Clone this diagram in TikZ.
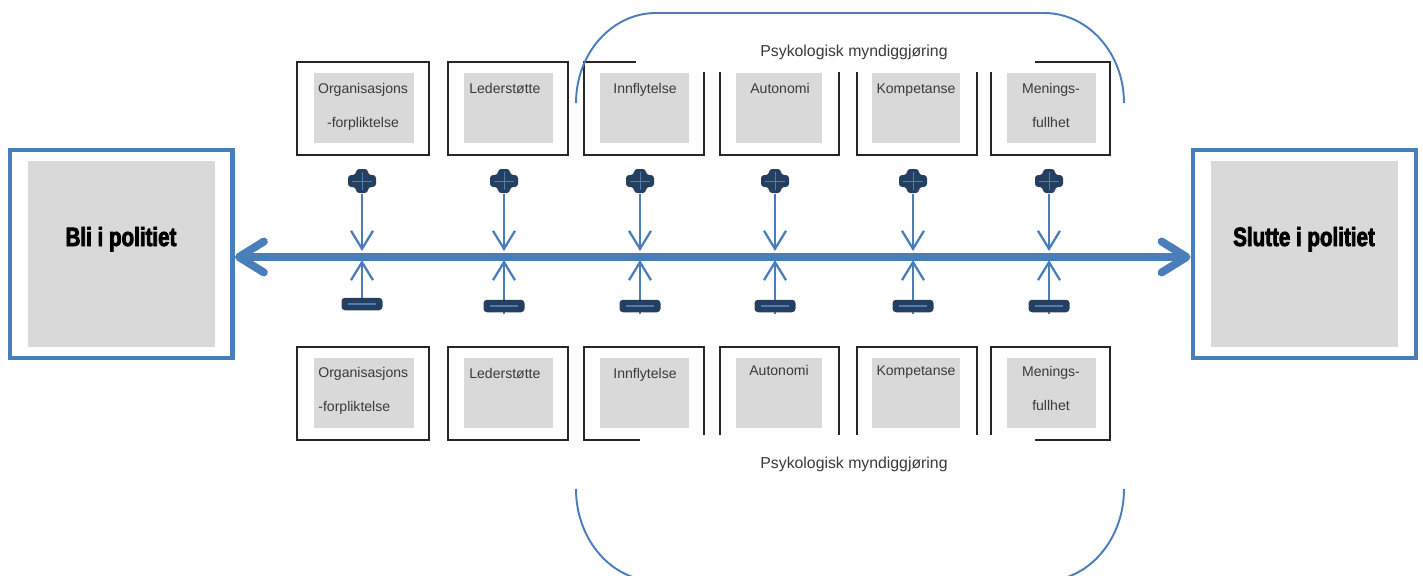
\documentclass[tikz,border=0pt]{standalone}
\usepackage{fontspec}
\setmainfont{Liberation Sans}
\newfontfamily\headfont{Liberation Sans}[FakeStretch=0.78,BoldFeatures={FakeStretch=0.78,FakeBold=3}]
\usetikzlibrary{arrows.meta,fit}
\definecolor{axisblue}{HTML}{4A7EBB}
\definecolor{symnavy}{HTML}{243F60}
\definecolor{panelgray}{HTML}{D9D9D9}
\definecolor{labelgray}{HTML}{3A3A3A}
\begin{document}
\begin{tikzpicture}[x=0.02cm,y=-0.02cm,
  frame/.style={draw=black!85, line width=0.85pt, inner sep=0pt},
  panel/.style={fill=panelgray, inner sep=0pt},
  cover/.style={fill=white, inner sep=0pt},
  endframe/.style={draw=axisblue, line width=2.8pt, inner sep=0pt},
  boxtext/.style={anchor=base, inner sep=0pt, text=labelgray, font=\fontsize{8pt}{9pt}\selectfont},
  boxtextL/.style={boxtext, anchor=base west},
  grouptext/.style={anchor=base, inner sep=0pt, text=labelgray, font=\fontsize{9pt}{10pt}\selectfont},
  headtext/.style={anchor=base, inner sep=0pt, text=black, font=\headfont\bfseries\fontsize{15pt}{18pt}\selectfont},
  bracket/.style={draw=axisblue, line width=1.1pt},
  mainaxis/.style={draw=axisblue, line width=4.5pt,
    {Straight Barb[round,length=0.5cm,width=0.62cm]}-{Straight Barb[round,length=0.5cm,width=0.62cm]}},
  link/.style={draw=axisblue, line width=1.3pt, -{Straight Barb[length=0.36cm,width=0.44cm]}},
  plussign/.style={rectangle, inner sep=0pt, minimum width=0.58cm, minimum height=0.5cm,
    path picture={\begin{scope}[shift={(path picture bounding box.center)}]
      \fill[symnavy, rounded corners=1.8pt] (-14,-6) -- (-6,-6) -- (-6,-12) -- (6,-12) -- (6,-6)
        -- (14,-6) -- (14,6) -- (6,6) -- (6,12) -- (-6,12) -- (-6,6) -- (-14,6) -- cycle;
      \draw[axisblue, line width=0.5pt] (-10,0) -- (10,0) (0,-9) -- (0,9);
    \end{scope}}},
  minussign/.style={rectangle, inner sep=0pt, fill=symnavy, rounded corners=2pt,
    minimum width=0.82cm, minimum height=0.25cm,
    path picture={\begin{scope}[shift={(path picture bounding box.center)}]
      \draw[axisblue, line width=0.6pt] (-14,0) -- (14,0);
    \end{scope}}}
]
\useasboundingbox (0,0) rectangle (1423,575);
\clip (0,0) rectangle (1423,575);

% factor boxes, upper and lower rows
\foreach \i/\xl/\xr/\gl/\gr in {1/297/429/314/414, 2/448/568/464/553, 3/584/704/600/689,
                                4/720/839/736/822, 5/857/977/872/960, 6/991/1110/1007/1096}{
  \node[frame, fit={(\xl,62) (\xr,155)}] (top\i) {};
  \node[panel, fit={(\gl,73) (\gr,143)}] (topin\i) {};
  \node[frame, fit={(\xl,347) (\xr,440)}] (bot\i) {};
  \node[panel, fit={(\gl,358) (\gr,428)}] (botin\i) {};
}

% white bands carrying the group captions
\node[cover, fit={(636,34) (1035,72)}] (captop) {};
\node[cover, fit={(640,435) (1035,476)}] (capbot) {};
\node[grouptext] (grouptop) at (854,56) {Psykologisk myndiggjøring};
\node[grouptext] (groupbot) at (854,468) {Psykologisk myndiggjøring};

% upper labels
\node[boxtext] (tl1a) at (363,93) {Organisasjons};
\node[boxtext] (tl1b) at (363,127) {-forpliktelse};
\node[boxtextL] (tl2) at (469,93) {Lederstøtte};
\node[boxtext] (tl3) at (645,93) {Innflytelse};
\node[boxtext] (tl4) at (780,93) {Autonomi};
\node[boxtext] (tl5) at (916,93) {Kompetanse};
\node[boxtext] (tl6a) at (1051,93) {Menings-};
\node[boxtext] (tl6b) at (1051,127) {fullhet};

% lower labels
\node[boxtextL] (bl1a) at (318,377) {Organisasjons};
\node[boxtextL] (bl1b) at (318,411) {-forpliktelse};
\node[boxtextL] (bl2) at (469,378) {Lederstøtte};
\node[boxtext] (bl3) at (645,378) {Innflytelse};
\node[boxtext] (bl4) at (779,375) {Autonomi};
\node[boxtext] (bl5) at (916,375) {Kompetanse};
\node[boxtext] (bl6a) at (1051,376) {Menings-};
\node[boxtext] (bl6b) at (1051,410) {fullhet};

% curved brackets around the empowerment group
\draw[bracket] (576,103) arc[start angle=180, end angle=270, x radius=80, y radius=90]
  -- (1044,13) arc[start angle=270, end angle=360, x radius=80, y radius=90];
\draw[bracket] (576,489) arc[start angle=180, end angle=90, x radius=80, y radius=92]
  -- (1044,581) arc[start angle=90, end angle=0, x radius=80, y radius=92];

% outcome boxes
\node[endframe, fit={(10,150) (232.5,358)}] (endL) {};
\node[panel, fit={(28,161) (215,347)}] (endLin) {};
\node[headtext] (endLtext) at (121,246) {Bli i politiet};
\node[endframe, fit={(1193,150) (1416,358)}] (endR) {};
\node[panel, fit={(1211,161) (1398,347)}] (endRin) {};
\node[headtext] (endRtext) at (1304,246) {Slutte i politiet};

% main axis
\coordinate (axis) at (0,257);
\draw[mainaxis] (endL.east |- axis) -- (endR.west |- axis);

% positive and negative influences on the axis
\foreach \i/\x/\my/\mb in {1/362/304/310, 2/504/306/314, 3/640/306/314,
                           4/775/306/314, 5/913/306/314, 6/1049/306/314}{
  \coordinate (dn\i) at (\x,251);
  \coordinate (up\i) at (\x,260);
  \coordinate (mb\i) at (\x,\mb);
  \node[plussign] (plus\i) at (\x,181) {};
  \draw[link] (plus\i.south) -- (dn\i);
  \draw[link] (mb\i) -- (up\i);
  \node[minussign] (minus\i) at (\x,\my) {};
}
\end{tikzpicture}
\end{document}
